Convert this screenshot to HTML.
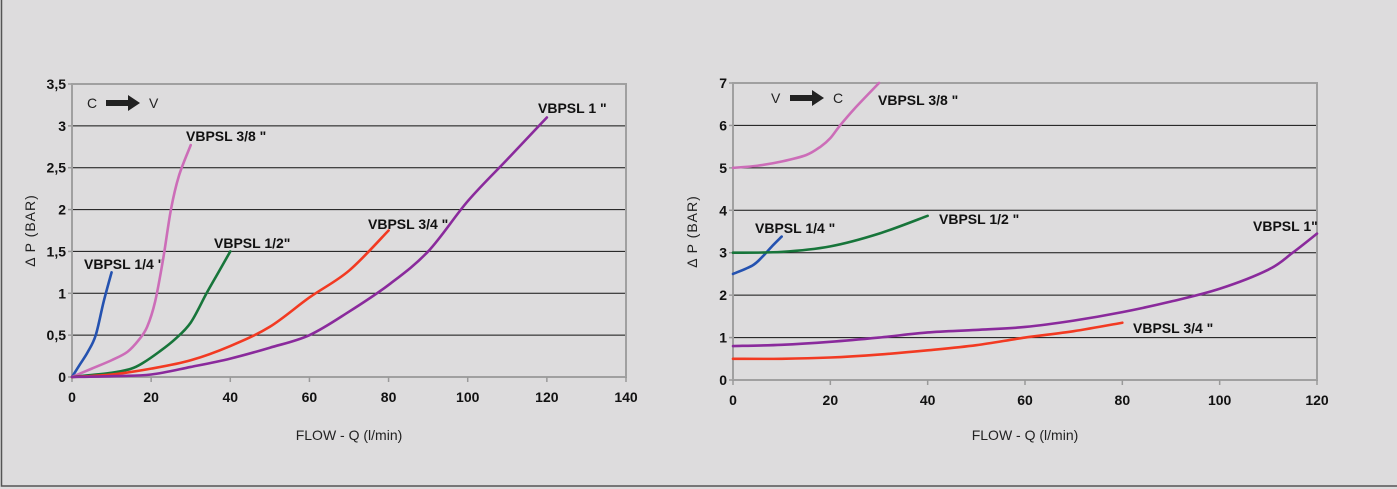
<!DOCTYPE html>
<html><head><meta charset="utf-8"><style>
html,body{margin:0;padding:0;background:#dddcdd;}
svg{display:block}
text{font-family:"Liberation Sans Narrow","Liberation Sans",sans-serif;}
.t{font-size:14px;font-weight:bold;fill:#111}
.lb{font-size:14px;font-weight:bold;fill:#111}
.at{font-size:14px;fill:#222}
</style></head><body>
<svg id="c" width="1397" height="489" viewBox="0 0 1397 489" xmlns="http://www.w3.org/2000/svg">
<rect x="0" y="0" width="1397" height="489" fill="#dddcdd"/>
<rect x="1.5" y="-2" width="1400" height="488" fill="none" stroke="#555" stroke-width="1.5"/>
</svg>
<script>
const leftXTicks=[0,20,40,60,80,100,120,140];
const leftYTicks=[0,0.5,1,1.5,2,2.5,3,3.5];
const leftYLabels=["0","0,5","1","1,5","2","2,5","3","3,5"];
const rightXTicks=[0,20,40,60,80,100,120];
const rightYTicks=[0,1,2,3,4,5,6,7];
const rightYLabels=["0","1","2","3","4","5","6","7"];

const L14x=[0,2,4,6,8,10], L14y=[0,0.15,0.3,0.5,0.9,1.25];
const L38x=[0,5,10,14,17,19,21,23,25,27,30], L38y=[0,0.1,0.2,0.3,0.45,0.6,0.9,1.4,2.0,2.4,2.77];
const L12x=[0,10,15,18,22,26,30,34,37,40], L12y=[0,0.05,0.1,0.17,0.3,0.45,0.65,1.0,1.25,1.5];
const L34x=[0,10,20,30,40,50,60,70,80], L34y=[0,0.03,0.1,0.2,0.37,0.6,0.95,1.27,1.75];
const L1x=[0,10,20,30,40,50,60,70,80,90,100,110,120], L1y=[0,0.01,0.03,0.12,0.22,0.35,0.5,0.78,1.1,1.5,2.1,2.6,3.1];

const R38x=[0,5,10,15,18,20,22,25,30], R38y=[5,5.05,5.15,5.3,5.5,5.7,6.0,6.4,7.0];
const R14x=[0,4,6,8,10], R14y=[2.5,2.7,2.9,3.15,3.38];
const R12x=[0,10,20,30,40], R12y=[3.0,3.02,3.15,3.45,3.87];
const R1x=[0,10,20,30,40,50,60,70,80,90,100,110,115,120], R1y=[0.8,0.83,0.9,1.0,1.12,1.18,1.25,1.4,1.6,1.85,2.15,2.6,3.0,3.45];
const R34x=[0,10,20,30,40,50,60,70,80], R34y=[0.5,0.5,0.53,0.6,0.7,0.82,1.0,1.15,1.35];

const svg=document.getElementById('c');
const NS='http://www.w3.org/2000/svg';
function mk(tag,attrs,parent){const e=document.createElementNS(NS,tag);for(const k in attrs)e.setAttribute(k,attrs[k]);(parent||svg).appendChild(e);return e;}
function path(pts){let d='M'+pts[0][0]+','+pts[0][1];for(let i=0;i<pts.length-1;i++){const p0=pts[i-1]||pts[i],p1=pts[i],p2=pts[i+1],p3=pts[i+2]||p2;
d+=' C'+(p1[0]+(p2[0]-p0[0])/6)+','+(p1[1]+(p2[1]-p0[1])/6)+' '+(p2[0]-(p3[0]-p1[0])/6)+','+(p2[1]-(p3[1]-p1[1])/6)+' '+p2[0]+','+p2[1];}return d;}

function chart(o){
  const g=mk('g',{});
  
  
  const sx=v=>o.x0+(v-o.xmin)/(o.xmax-o.xmin)*(o.x1-o.x0);
  const sy=v=>o.y0-(v-o.ymin)/(o.ymax-o.ymin)*(o.y0-o.y1);
  o.yt.forEach((v,i)=>{
    if(v>0&&v<o.ymax){const l=mk('line',{x1:o.x0,x2:o.x1,y1:sy(v),y2:sy(v),stroke:'#111','stroke-width':1},g);
    }
    const t=mk('text',{x:o.x0-6,y:sy(v)+5,'text-anchor':'end',class:'t'},g);t.textContent=o.yl[i];
    
    mk('line',{x1:o.x0-4,x2:o.x0,y1:sy(v),y2:sy(v),stroke:'#999','stroke-width':1.5},g);
  });
  const fr=mk('rect',{x:o.x0,y:o.y1,width:o.x1-o.x0,height:o.y0-o.y1,fill:'none',stroke:'#a0a0a0','stroke-width':2},g);
  
  o.xt.forEach(v=>{
    mk('line',{x1:sx(v),x2:sx(v),y1:o.y0,y2:o.y0+5,stroke:'#999','stroke-width':1.5},g);
    const t=mk('text',{x:sx(v),y:o.y0+25,'text-anchor':'middle',class:'t'},g);t.textContent=v;
    
  });
  o.series.forEach(s=>{
    const pts=s.x.map((v,i)=>[sx(v),sy(s.y[i])]);
    const p=mk('path',{d:path(pts),fill:'none',stroke:s.c,'stroke-width':2.6,'stroke-linecap':'round'},g);
    
    const t=mk('text',{x:s.lx,y:s.ly,class:'lb','text-anchor':s.a||'start'},g);t.textContent=s.label;
    
  });
  const xt=mk('text',{x:(o.x0+o.x1)/2,y:440,'text-anchor':'middle',class:'at'},g);xt.textContent='FLOW - Q (l/min)';
  
  const cy=(o.y0+o.y1)/2;
  const yt=mk('text',{x:o.ytx,y:cy,'text-anchor':'middle',class:'at',transform:'rotate(-90 '+o.ytx+' '+cy+')','letter-spacing':'1'},g);yt.textContent='Δ  P (BAR)';
  
  const d=o.dir;
  const a=mk('text',{x:d.x,y:d.y,class:'at','font-size':'15'},g);a.textContent=d.a;
  
  const ar=mk('path',{d:`M${d.x+19},${d.y-8} h22 v-5 l12,8 l-12,8 v-5 h-22 z`,fill:'#222'},g);
  
  const b=mk('text',{x:d.x+62,y:d.y,class:'at','font-size':'15'},g);b.textContent=d.b;
  
}
chart({name:'chart-c-to-v',x0:72,x1:626,y0:377,y1:84,xmin:0,xmax:140,ymin:0,ymax:3.5,xt:leftXTicks,yt:leftYTicks,yl:leftYLabels,ytx:35,
 dir:{x:87,y:108,a:'C',b:'V'},
 series:[
  {n:'line-vbpsl-1-4',c:'#2452b0',x:L14x,y:L14y,label:'VBPSL 1/4 "',lx:84,ly:269},
  {n:'line-vbpsl-3-8',c:'#cc6db8',x:L38x,y:L38y,label:'VBPSL 3/8 "',lx:186,ly:141},
  {n:'line-vbpsl-1-2',c:'#17753a',x:L12x,y:L12y,label:'VBPSL 1/2"',lx:214,ly:248},
  {n:'line-vbpsl-3-4',c:'#f23a22',x:L34x,y:L34y,label:'VBPSL 3/4 "',lx:368,ly:229},
  {n:'line-vbpsl-1',c:'#8a2a9c',x:L1x,y:L1y,label:'VBPSL 1 "',lx:538,ly:113}
 ]});
chart({name:'chart-v-to-c',x0:733,x1:1317,y0:380,y1:83,xmin:0,xmax:120,ymin:0,ymax:7,xt:rightXTicks,yt:rightYTicks,yl:rightYLabels,ytx:697,
 dir:{x:771,y:103,a:'V',b:'C'},
 series:[
  {n:'line-vbpsl-3-8',c:'#cc6db8',x:R38x,y:R38y,label:'VBPSL 3/8 "',lx:878,ly:105},
  {n:'line-vbpsl-1-4',c:'#2452b0',x:R14x,y:R14y,label:'VBPSL 1/4 "',lx:755,ly:233},
  {n:'line-vbpsl-1-2',c:'#17753a',x:R12x,y:R12y,label:'VBPSL 1/2 "',lx:939,ly:224},
  {n:'line-vbpsl-1',c:'#8a2a9c',x:R1x,y:R1y,label:'VBPSL 1"',lx:1253,ly:231},
  {n:'line-vbpsl-3-4',c:'#f23a22',x:R34x,y:R34y,label:'VBPSL 3/4 "',lx:1133,ly:333}
 ]});
</script>
</body></html>
